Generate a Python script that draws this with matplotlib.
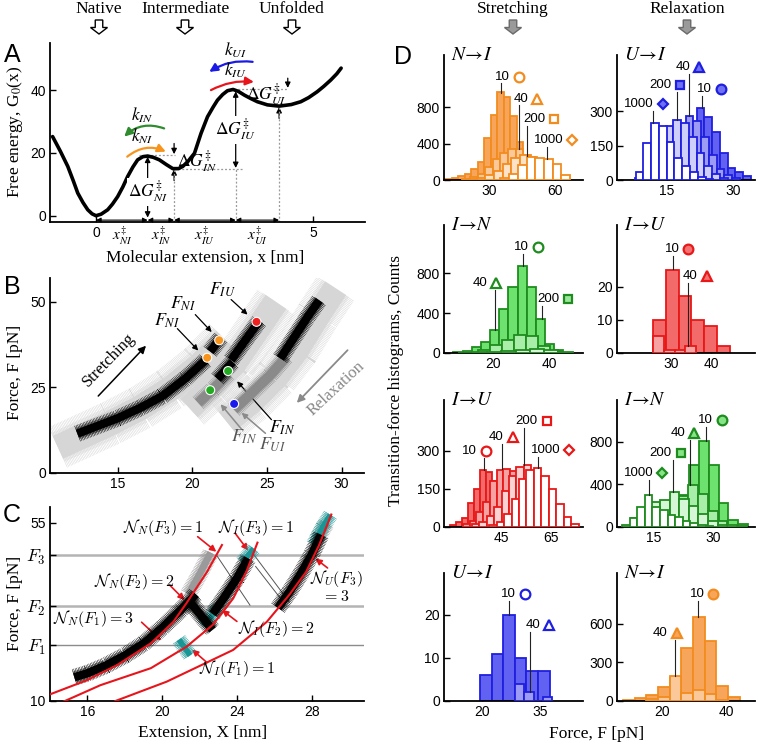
import numpy as np
import matplotlib
matplotlib.use('Agg')
import matplotlib.pyplot as plt
from matplotlib.patches import FancyArrowPatch, FancyArrow
from matplotlib import transforms

plt.rcParams['font.family'] = ['Liberation Sans', 'DejaVu Sans']
plt.rcParams['mathtext.fontset'] = 'stix'
plt.rcParams['lines.scale_dashes'] = False
SERIF = ['Liberation Serif', 'DejaVu Serif']

# ---------------- panel A: free energy profile ----------------
CURVE_X = [-1.0, -0.82, -0.65, -0.52, -0.42, -0.3, -0.19, -0.09, 0.0, 0.12, 0.27, 0.38, 0.5,
           0.62, 0.73, 0.85, 0.96, 1.08, 1.19, 1.32, 1.46, 1.62, 1.77, 1.9, 2.0, 2.12, 2.27,
           2.42, 2.57, 2.7, 2.8, 2.92, 3.03, 3.16, 3.28, 3.42, 3.57, 3.72, 3.95, 4.22, 4.5,
           4.72, 4.9, 5.1, 5.25, 5.41, 5.55, 5.65]
CURVE_G = [25.2, 20.5, 15.7, 11.0, 7.2, 4.2, 1.9, 0.6, 0.0, 0.5, 1.9, 3.7, 6.1,
           9.2, 12.5, 15.5, 17.8, 18.8, 19.0, 18.6, 17.8, 16.3, 15.0, 15.0, 15.7, 17.3, 19.9,
           26.2, 31.5, 34.6, 36.8, 38.6, 39.8, 40.2, 39.6, 38.4, 37.3, 36.3, 35.3, 34.9, 35.4,
           36.3, 37.6, 39.5, 41.2, 43.2, 45.2, 47.0]
X_TS = [0.0, 1.19, 1.8, 3.22, 4.22]          # state / barrier positions on x axis
X_TS_LABELS = [r'$x^{\ddag}_{NI}$', r'$x^{\ddag}_{IN}$', r'$x^{\ddag}_{IU}$', r'$x^{\ddag}_{UI}$']

# ---------------- panel B: force-extension traces ----------------
B_LIGHT = [([11.0, 12.5, 14.5, 16.5, 18.5, 20.5, 22.2], [7.5, 10.5, 14.5, 19.0, 24.5, 31.5, 39.0]),
           ([19.8, 21.3, 22.8, 24.2, 25.6], [19.0, 25.0, 32.0, 41.0, 50.0]),
           ([22.3, 24.0, 25.6, 27.0, 28.4, 29.6], [15.0, 21.0, 28.0, 36.0, 46.0, 54.0])]
B_DARK = [([20.4, 21.4, 22.4], [20.5, 24.5, 29.0]),
          ([22.8, 24.0, 25.2, 26.3], [18.5, 23.5, 28.5, 34.0])]
B_BLACK = [([12.3, 13.5, 15.0, 16.5, 18.0, 19.5, 20.9], [11.5, 13.5, 16.0, 19.0, 22.5, 27.5, 33.0]),
           ([21.2, 21.9], [35.5, 39.5]),
           ([21.7, 22.7], [27.5, 32.5]),
           ([22.6, 23.5, 24.5], [33.0, 38.5, 44.5]),
           ([25.9, 26.8, 27.7, 28.5], [33.5, 39.5, 45.5, 50.5])]
B_DOT_X = [21.0, 21.8, 24.3, 22.4, 21.2, 22.8]
B_DOT_F = [33.7, 38.8, 44.2, 29.8, 24.2, 20.2]
B_DOT_C = ['#f7941d', '#f7941d', '#ee2020', '#22aa22', '#22aa22', '#1a1aee']

# ---------------- panel C: state counting ----------------
C_FIT_N = ([13.9, 16.0, 17.6, 19.4, 20.6, 21.3, 22.4, 23.2], [11.5, 15.3, 19.1, 24.6, 30.0, 34.7, 42.6, 49.4])
C_FIT_I = ([14.7, 16.7, 19.4, 21.3, 22.7, 23.8, 24.5, 25.1], [9.8, 14.0, 18.3, 23.7, 29.2, 35.9, 42.6, 50.0])
C_FIT_U = ([17.5, 20.25, 23.8, 25.6, 26.8, 27.7, 28.4, 29.05], [10.0, 14.9, 22.9, 30.0, 36.8, 42.6, 49.4, 57.1])
F1, F2, F3 = 24.1, 34.0, 46.9
C_BLACK = [([15.3, 16.0, 17.0, 18.0, 19.0, 20.0, 21.0, 21.8], [16.0, 17.0, 19.0, 21.5, 24.5, 28.5, 33.0, 37.0]),
           ([21.4, 22.7], [35.5, 28.0]),
           ([22.7, 23.3, 24.0, 24.6], [32.0, 36.0, 41.0, 46.0]),
           ([26.2, 26.8, 27.4, 28.0, 28.5], [33.5, 37.5, 42.0, 47.0, 52.0])]
C_GREY = [([21.4, 22.0, 22.6], [37.0, 42.0, 47.5]),
          ([28.3, 28.8], [51.0, 55.0])]
C_TEAL = [([20.9, 21.5], [25.5, 21.5]),
          ([22.2, 23.0], [29.0, 33.5]),
          ([24.3, 24.9], [45.0, 48.5]),
          ([28.1, 28.6, 29.0], [49.5, 54.0, 57.0])]
C_JUMPS = [([24.9, 26.8], [47.0, 35.0]), ([22.9, 24.7], [46.9, 34.2]), ([25.0, 26.4], [44.0, 35.5])]
C_TEXT = [r'$\mathcal{N}_N(F_3)=1$', r'$\mathcal{N}_I(F_3)=1$', r'$\mathcal{N}_N(F_2)=2$',
          r'$\mathcal{N}_N(F_1)=3$', r'$\mathcal{N}_I(F_2)=2$', r'$\mathcal{N}_I(F_1)=1$',
          r'$\mathcal{N}_U(F_3)$']
C_TEXT_X = [20.05, 25.05, 18.5, 16.3, 26.1, 24.0, 29.3]
C_TEXT_F = [53.7, 53.7, 40.1, 30.9, 28.3, 18.2, 41.0]
C_ARR_FROM = [(21.9, 51.5), (23.9, 52.4), (20.4, 39.3), (18.9, 29.9), (24.0, 30.1), (22.4, 19.7), (28.85, 43.6)]
C_ARR_TO = [(22.9, 47.7), (24.6, 48.0), (21.2, 35.5), (19.95, 25.3), (23.2, 33.0), (21.6, 23.0), (28.2, 46.0)]

# ---------------- panel D: transition-force histograms ----------------
RATES = [10, 40, 200, 1000]
# N->I, stretching
NI_STR = [[10, 20, 40, 70, 120, 200, 460, 715, 960, 910, 700, 420, 200, 80, 25],
          [15, 35, 70, 140, 230, 300, 340, 345, 270, 160, 70, 20],
          [10, 25, 50, 100, 170, 240, 270, 250, 180, 90, 30],
          [20, 70, 160, 250, 240, 225, 170, 55]]
NI_STR_LO = [9.5, 17.5, 20.0, 35.0]
NI_STR_W = [3.0, 3.5, 4.0, 4.0]
# U->I, relaxation
UI_REL = [[5, 15, 40, 80, 150, 238, 315, 275, 208, 119, 52, 37, 18],
          [5, 15, 40, 90, 160, 230, 278, 260, 190, 110, 50, 20, 8],
          [8, 30, 80, 160, 235, 264, 250, 190, 120, 60, 25, 8],
          [33, 160, 250, 235, 165, 95, 60, 35, 15, 5]]
UI_REL_LO = [11.25, 8.75, 7.75, 8.0]
UI_REL_W = [1.75, 1.75, 1.75, 1.75]
# I->N, stretching
IN_STR = [[10, 20, 57, 107, 227, 443, 660, 873, 660, 340, 90, 33],
          [33, 83, 133, 177, 167, 67, 20],
          [5, 10, 15, 25, 30, 40, 30, 15]]
IN_STR_LO = [6.3, 14.8, 8.0]
IN_STR_W = [3.2, 4.2, 5.0]
# I->U, relaxation
IU_REL = [[10, 25, 17, 10, 8, 2],
          [5, 1, 1, 2]]
IU_REL_LO = [25.5, 25.5]
IU_REL_W = [3.2, 2.7]
# I->U, stretching
IU_STR = [[8, 21, 34, 93, 149, 225, 215, 180, 120, 60, 25, 10],
          [10, 25, 60, 100, 180, 225, 229, 222, 170, 110, 60, 25, 8],
          [10, 20, 45, 80, 140, 200, 235, 245, 200, 130, 60, 20],
          [8, 20, 50, 110, 190, 225, 234, 200, 150, 90, 40, 12]]
IU_STR_LO = [24.3, 29.5, 33.0, 40.0]
IU_STR_W = [2.4, 2.7, 3.0, 3.0]
# I->N, relaxation
IN_REL = [[15, 40, 100, 300, 583, 809, 577, 226, 65, 28],
          [10, 40, 100, 180, 290, 397, 310, 150, 60, 20, 5],
          [20, 80, 160, 230, 250, 329, 260, 200, 120, 60, 20],
          [80, 189, 298, 189, 158, 112, 90, 60, 35, 15, 5]]
IN_REL_LO = [13.75, 11.0, 7.0, 9.0]
IN_REL_W = [2.5, 2.5, 2.4, 1.9]
# U->I, stretching side (bottom left)
UI_STR = [[6, 11, 20, 10, 7, 7],
          [4, 2, 0, 1]]
UI_STR_LO = [19.6, 28.5]
UI_STR_W = [2.95, 2.35]
# N->I, relaxation side (bottom right)
NI_REL = [[10, 25, 50, 112, 180, 416, 650, 468, 120, 34],
          [15, 34, 195, 65, 86, 55, 10]]
NI_REL_LO = [8.0, 15.2]
NI_REL_W = [3.6, 3.6]

# rate labels: text centre x, text y, leader x, leader bottom (bar top)
LAB = {
    'ni_str': ([35.8, 44.3, 50.5, 57.2], [1134, 893, 666, 439], [35.1, 43.4, 47.2, 56.2], [954, 342, 265, 234]),
    'ui_rel': ([23.6, 18.6, 13.5, 8.8], [398, 493, 416, 334], [22.9, 20.1, 17.4, 12.0], [315, 278, 264, 250]),
    'in_str': ([30.1, 15.6, 39.4], [1059, 700, 540], [30.5, 20.8, 37.4], [873, 233, 340]),
    'iu_rel': ([30.25, 34.8], [31.2, 23.2], [30.5, 34.2], [25.3, 2.0]),
    'iu_str': ([32.1, 43.0, 55.0, 62.7], [300, 353, 418, 304], [37.9, 45.3, 54.1, 59.7], [225, 229, 245, 234]),
    'in_rel': ([27.9, 21.0, 16.7, 11.25], [1004, 880, 694, 505], [28.1, 24.2, 19.75, 13.75], [809, 397, 329, 298]),
    'ui_str': ([26.8, 33.0], [24.9, 17.7], [27.0, 32.3], [20.0, 2.2]),
    'ni_rel': ([30.8, 19.5], [835, 533], [31.1, 24.1], [650, 195]),
}

COLORS = {
    'orange': ('#f28c1f', ['#f8a55c', '#fbc89a', '#fde2c8', 'white']),
    'blue': ('#1f1fe0', ['#6262f2', '#9c9cf7', '#cfcffb', 'white']),
    'green': ('#1e8c1e', ['#6ee26e', '#a8eea8', '#d6f7d6', 'white']),
    'red': ('#e81818', ['#f26a6a', '#f7a3a3', '#fbd3d3', 'white']),
}
MARKERS = {10: ('o', 7), 40: ('^', 7.5), 200: ('s', 6), 1000: ('D', 5.5)}

W, H = 758, 744
fig = plt.figure(figsize=(W / 100, H / 100), dpi=100)


def add_ax(l, t, r, b):
    ax = fig.add_axes([l / W, 1 - b / H, (r - l) / W, (b - t) / H])
    for s in ('top', 'right'):
        ax.spines[s].set_visible(False)
    for s in ('left', 'bottom'):
        ax.spines[s].set_linewidth(1.3)
    ax.tick_params(direction='in', length=4, width=1, labelsize=10, pad=3)
    return ax


def arrow(ax, a, b, color='k', lw=1.0, style='-|>', ms=9, rad=0.0):
    ax.add_patch(FancyArrowPatch(a, b, arrowstyle=style, color=color, lw=lw,
                                 mutation_scale=ms, shrinkA=0, shrinkB=0,
                                 connectionstyle=f'arc3,rad={rad}', clip_on=False))


def noisy(ax, xs, fs, color, core, spread, z):
    # solid core plus two dashed wide strokes of different period -> ragged "noise" edge
    ax.plot(xs, fs, color=color, lw=core, solid_capstyle='butt', zorder=z)
    ax.plot(xs, fs, color=color, lw=spread, ls=(0, (0.35, 0.75)), dash_capstyle='butt', zorder=z)
    ax.plot(xs, fs, color=color, lw=spread * 0.72, ls=(0.3, (0.3, 0.45)), dash_capstyle='butt', zorder=z)


def ftext(x, y, s, **kw):
    fig.text(x / W, 1 - y / H, s, ha='center', va='center', **kw)


def block_arrow(x, y, fc, ec):
    p = FancyArrow(x / 100, (H - y + 7) / 100, 0, -0.14, width=0.075, head_width=0.17,
                   head_length=0.065, length_includes_head=True, fc=fc, ec=ec, lw=1,
                   transform=fig.dpi_scale_trans)
    fig.add_artist(p)


# ---- top headers ----
for name, x in [('Native', 99), ('Intermediate', 185), ('Unfolded', 292)]:
    ftext(x, 9, name, family=SERIF, fontsize=12.5)
    block_arrow(x, 27, 'white', 'black')
for name, x in [('Stretching', 513), ('Relaxation', 687)]:
    ftext(x, 9, name, family=SERIF, fontsize=12.5)
    block_arrow(x, 27, '#9a9a9a', '#6a6a6a')

for lab, x, y in [('A', 12, 55), ('B', 12, 287), ('C', 12, 515), ('D', 403, 57)]:
    ftext(x, y, lab, fontsize=18)

# ================= A =================
axA = add_ax(50, 43, 365, 222)
axA.set_xlim(-1.06, 6.2)
axA.set_ylim(-2, 55)
axA.set_yticks([0, 20, 40])
axA.set_xticks([0, 5])
dot = dict(color='#9a9a9a', lw=0.9, ls=(0, (1.4, 1.4)))
axA.plot([1.0, 1.82], [19.4, 19.4], **dot)
axA.plot([1.8, 3.42], [15.0, 15.0], **dot)
axA.plot([3.1, 4.42], [40.5, 40.5], **dot)
axA.plot([1.8, 1.8], [-2, 15], **dot)
axA.plot([3.22, 3.22], [-2, 15], **dot)
axA.plot([4.22, 4.22], [-2, 34.5], **dot)
axA.plot(CURVE_X, CURVE_G, color='black', lw=2.6, solid_capstyle='round', solid_joinstyle='round', zorder=3)

arrow(axA, (1.19, -0.6), (1.19, 18.8), style='<|-|>', lw=0.9, ms=8)
arrow(axA, (1.8, 23.0), (1.8, 19.6), lw=0.9, ms=8)
arrow(axA, (1.8, 11.2), (1.8, 14.8), lw=0.9, ms=8)
arrow(axA, (3.22, 15.2), (3.22, 39.6), style='<|-|>', lw=0.9, ms=8)
arrow(axA, (4.42, 43.8), (4.42, 40.7), lw=0.9, ms=8)
arrow(axA, (4.22, 31.0), (4.22, 34.6), lw=0.9, ms=8)
for a, b in zip(X_TS[:-1], X_TS[1:]):
    arrow(axA, (a, -1.4), (b, -1.4), style='<|-|>', lw=0.8, ms=7)
for a, b, s in zip(X_TS[:-1], X_TS[1:], X_TS_LABELS):
    axA.text((a + b) / 2, -6.6, s, ha='center', va='center', fontsize=11, clip_on=False)

wb = dict(facecolor='white', edgecolor='none', pad=0.5)
axA.text(1.19, 7.5, r'$\Delta G^{\ddag}_{NI}$', ha='center', va='center', fontsize=12.5, bbox=wb, zorder=4)
axA.text(2.33, 17.0, r'$\Delta G^{\ddag}_{IN}$', ha='center', va='center', fontsize=12.5, zorder=4)
axA.text(3.22, 27.3, r'$\Delta G^{\ddag}_{IU}$', ha='center', va='center', fontsize=12.5, bbox=wb, zorder=4)
axA.text(3.93, 38.4, r'$\Delta G^{\ddag}_{UI}$', ha='center', va='center', fontsize=12.5, zorder=4)

arrow(axA, (1.57, 27.8), (0.65, 25.2), color='#2e8b2e', lw=1.6, ms=12, rad=0.3)
arrow(axA, (0.72, 18.8), (1.61, 20.4), color='#f7941d', lw=1.6, ms=12, rad=-0.3)
arrow(axA, (3.61, 49.0), (2.61, 45.8), color='#1a1ae6', lw=1.6, ms=12, rad=0.18)
arrow(axA, (2.65, 40.0), (3.64, 42.6), color='#e8141c', lw=1.6, ms=12, rad=-0.15)
axA.text(1.06, 32.0, r'$k_{IN}$', ha='center', va='center', fontsize=12.5)
axA.text(1.06, 25.4, r'$k_{NI}$', ha='center', va='center', fontsize=12.5)
axA.text(3.22, 52.6, r'$k_{UI}$', ha='center', va='center', fontsize=12.5)
axA.text(3.22, 46.3, r'$k_{IU}$', ha='center', va='center', fontsize=12.5)

ftext(15, 132, r'Free energy, G$_0$(x)', family=SERIF, fontsize=12.5, rotation=90)
ftext(205, 258, 'Molecular extension, x [nm]', family=SERIF, fontsize=12.5)

# ================= B =================
axB = add_ax(50, 278, 364, 473)
axB.set_xlim(10.47, 31.5)
axB.set_ylim(0, 57)
axB.set_xticks([15, 20, 25, 30])
axB.set_yticks([0, 25, 50])
for xs, fs in B_LIGHT:
    noisy(axB, xs, fs, '#d6d6d6', 18, 32, 1)
for xs, fs in B_DARK:
    noisy(axB, xs, fs, '#8a8a8a', 7, 12, 2)
for xs, fs in B_BLACK:
    noisy(axB, xs, fs, 'black', 6, 12, 3)
axB.scatter(B_DOT_X, B_DOT_F, s=42, c=B_DOT_C, edgecolors='white', linewidths=0.8, zorder=5)

arrow(axB, (13.7, 22.5), (16.9, 37.2), lw=1.1, ms=11)
axB.text(14.4, 33.0, 'Stretching', rotation=46, ha='center', va='center', family=SERIF, fontsize=12)
arrow(axB, (30.4, 35.9), (27.0, 20.5), color='#8a8a8a', lw=1.3, ms=11)
axB.text(29.6, 24.6, 'Relaxation', rotation=43, ha='center', va='center', family=SERIF,
         fontsize=12, color='#8a8a8a')
axB.text(22.0, 53.5, r'$F_{IU}$', ha='center', va='center', fontsize=13)
arrow(axB, (22.6, 50.7), (23.7, 46.3), lw=0.9, ms=8)
axB.text(19.4, 49.4, r'$F_{NI}$', ha='center', va='center', fontsize=13)
arrow(axB, (20.2, 46.3), (21.3, 41.2), lw=0.9, ms=8)
axB.text(18.3, 44.5, r'$F_{NI}$', ha='center', va='center', fontsize=13)
arrow(axB, (19.0, 42.2), (20.4, 35.8), lw=0.9, ms=8)
axB.text(26.0, 13.1, r'$F_{IN}$', ha='center', va='center', fontsize=13)
arrow(axB, (25.3, 15.6), (23.0, 26.8), lw=0.9, ms=8)
axB.text(23.5, 10.7, r'$F_{IN}$', ha='center', va='center', fontsize=13, color='#555555')
arrow(axB, (23.3, 12.8), (21.9, 20.1), color='#8a8a8a', lw=1.1, ms=8)
axB.text(25.4, 8.2, r'$F_{UI}$', ha='center', va='center', fontsize=13, color='#555555')
arrow(axB, (24.9, 11.6), (23.3, 17.6), color='#8a8a8a', lw=1.1, ms=8)
ftext(15, 372, 'Force, F [pN]', family=SERIF, fontsize=12.5, rotation=90)

# ================= C =================
axC = add_ax(50, 507, 364, 701)
axC.set_xlim(14.0, 30.8)
axC.set_ylim(10, 59)
axC.set_xticks([16, 20, 24, 28])
axC.set_yticks([10, F1, F2, F3, 55], ['10', r'$F_1$', r'$F_2$', r'$F_3$', '55'])
for i, lbl in enumerate(axC.get_yticklabels()):
    if i in (1, 2, 3):
        lbl.set_math_fontfamily('cm')
        lbl.set_fontsize(13)
axC.axhline(F1, color='#8c8c8c', lw=1.0, zorder=1)
axC.axhline(F2, color='#b4b4b4', lw=1.8, zorder=1)
axC.axhline(F3, color='#b4b4b4', lw=1.8, zorder=1)
for xs, fs in C_JUMPS:
    axC.plot(xs, fs, color='#555555', lw=0.7, zorder=2)
for xs, fs in C_GREY:
    noisy(axC, xs, fs, '#9a9a9a', 5, 12, 2)
for xs, fs in C_TEAL:
    noisy(axC, xs, fs, '#1a9595', 4, 11, 2)
for xs, fs in C_BLACK:
    noisy(axC, xs, fs, 'black', 6, 12, 3)
for xs, fs in (C_FIT_N, C_FIT_I, C_FIT_U):
    axC.plot(xs, fs, color='#e8141c', lw=1.5, zorder=4)
for s, x, f, a, b in zip(C_TEXT, C_TEXT_X, C_TEXT_F, C_ARR_FROM, C_ARR_TO):
    axC.text(x, f, s, ha='center', va='center', fontsize=11.5, math_fontfamily='cm', zorder=6)
    arrow(axC, a, b, color='#e8141c', lw=1.2, ms=9)
axC.text(29.3, 36.4, r'$=3$', ha='center', va='center', fontsize=11.5, math_fontfamily='cm')
ftext(15, 603, 'Force, F [pN]', family=SERIF, fontsize=12.5, rotation=90)
ftext(203, 733, 'Extension, X [nm]', family=SERIF, fontsize=12.5)

# ================= D =================
ROWS = [(55, 180), (225, 353), (400, 527), (573, 701)]
COLS = [(444, 583), (617, 755)]


def hist_panel(r, c, title, fam, counts, los, ws, lab, xlim, ylim, xt, yt, fills):
    ax = add_ax(COLS[c][0], ROWS[r][0], COLS[c][1], ROWS[r][1])
    ec, fcs = COLORS[fam]
    for k, (cnt, lo, w) in enumerate(zip(counts, los, ws)):
        left = lo + w * np.arange(len(cnt))
        ax.bar(left, cnt, width=w, align='edge', color=fcs[k], edgecolor=ec, lw=1.3, zorder=2 + k)
    ax.set_xlim(*xlim)
    ax.set_ylim(*ylim)
    ax.set_xticks(xt)
    ax.set_yticks(yt)
    tx, ty, lx, lb = lab
    for k in range(len(tx)):
        txt = str(RATES[k])
        ax.text(tx[k], ty[k], txt, ha='center', va='center', fontsize=9.5, zorder=10)
        off = transforms.offset_copy(ax.transData, fig=fig, x=len(txt) * 2.65 + 6.5, units='points')
        m, ms = MARKERS[RATES[k]]
        ax.plot([tx[k]], [ty[k]], marker=m, ms=ms, mec=ec, mew=1.6,
                mfc=fills[k], transform=off, clip_on=False, zorder=10)
        ax.plot([lx[k], lx[k]], [lb[k], ty[k] - 0.055 * ylim[1]], color='#222222', lw=0.8, zorder=9)
    ax.text(0.05, 1.0, title, transform=ax.transAxes, ha='left', va='center', fontsize=14)
    return ax


hist_panel(0, 0, r'$N\!\rightarrow\! I$', 'orange', NI_STR, NI_STR_LO, NI_STR_W, LAB['ni_str'],
           (9, 73), (0, 1370), [30, 60], [0, 400, 800], ['white'] * 4)
hist_panel(0, 1, r'$U\!\rightarrow\! I$', 'blue', UI_REL, UI_REL_LO, UI_REL_W, LAB['ui_rel'],
           (3.8, 34.9), (0, 547), [15, 30], [0, 150, 300], ['#7070f2'] * 4)
hist_panel(1, 0, r'$I\!\rightarrow\! N$', 'green', IN_STR, IN_STR_LO, IN_STR_W, LAB['in_str'],
           (3, 51.6), (0, 1283), [20, 40], [0, 400, 800], ['white', 'white', '#9be89b'])
hist_panel(1, 1, r'$I\!\rightarrow\! U$', 'red', IU_REL, IU_REL_LO, IU_REL_W, LAB['iu_rel'],
           (16.5, 51), (0, 38.5), [30, 40], [0, 10, 20], ['#f47272'] * 2)
hist_panel(2, 0, r'$I\!\rightarrow\! U$', 'red', IU_STR, IU_STR_LO, IU_STR_W, LAB['iu_str'],
           (21.9, 77.7), (0, 500), [45, 65], [0, 150, 300], ['white'] * 4)
hist_panel(2, 1, r'$I\!\rightarrow\! N$', 'green', IN_REL, IN_REL_LO, IN_REL_W, LAB['in_rel'],
           (5.8, 40.4), (0, 1190), [15, 30], [0, 400, 800], ['#86e486'] * 4)
hist_panel(3, 0, r'$U\!\rightarrow\! I$', 'blue', UI_STR, UI_STR_LO, UI_STR_W, LAB['ui_str'],
           (10.4, 45.8), (0, 29.7), [20, 35], [0, 10, 20], ['white'] * 2)
hist_panel(3, 1, r'$N\!\rightarrow\! I$', 'orange', NI_REL, NI_REL_LO, NI_REL_W, LAB['ni_rel'],
           (6.15, 48.7), (0, 996), [20, 40], [0, 300, 600], ['#f8a55c'] * 2)

ftext(396, 380, 'Transition-force histograms, Counts', family=SERIF, fontsize=12.5, rotation=90)
ftext(597, 734, 'Force, F [pN]', family=SERIF, fontsize=12.5)

fig.savefig('out.png', dpi=100)
